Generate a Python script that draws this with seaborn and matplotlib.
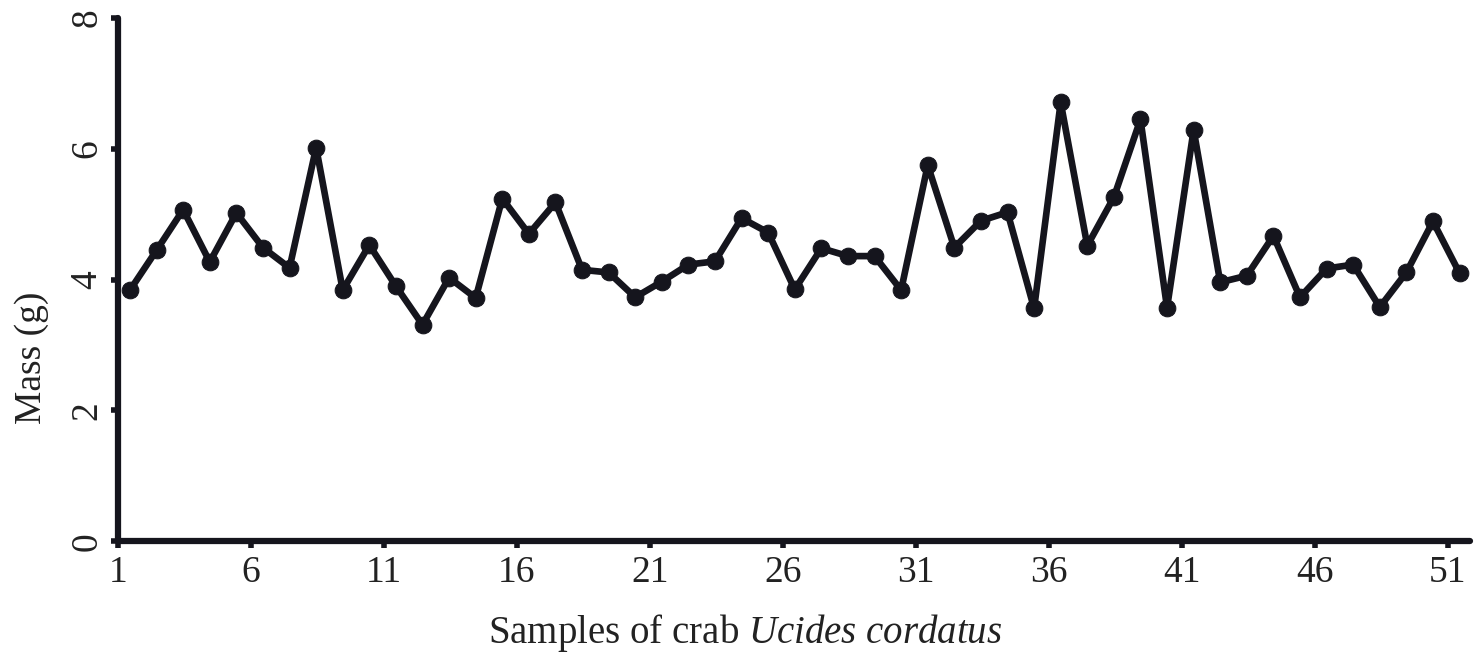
import numpy as np
import pandas as pd
import seaborn as sns
import matplotlib.pyplot as plt

# crab samples 1..51 and their mass (g)
samples = list(range(1, 52))
mass = [3.84, 4.45, 5.07, 4.27, 5.02, 4.49, 4.18, 6.02, 3.84, 4.53,
        3.90, 3.31, 4.03, 3.72, 5.24, 4.70, 5.18, 4.15, 4.11, 3.73,
        3.97, 4.23, 4.28, 4.94, 4.72, 3.85, 4.48, 4.36, 4.36, 3.84,
        5.75, 4.49, 4.90, 5.03, 3.56, 6.71, 4.52, 5.26, 6.45, 3.57,
        6.29, 3.96, 4.06, 4.67, 3.73, 4.17, 4.23, 3.58, 4.11, 4.89,
        4.10]
x_ticks = [1, 6, 11, 16, 21, 26, 31, 36, 41, 46, 51]
y_ticks = [0, 2, 4, 6, 8]

df = pd.DataFrame({'sample': samples, 'mass': mass})
# excel-style category axis: points sit in the middle of each category
df['pos'] = df['sample'] + 0.45

sns.set_style('ticks')
plt.rcParams['font.family'] = ['Liberation Serif', 'DejaVu Serif']
plt.rcParams['mathtext.fontset'] = 'custom'
plt.rcParams['mathtext.rm'] = 'Liberation Serif'
plt.rcParams['mathtext.it'] = 'Liberation Serif:italic'

fig = plt.figure(figsize=(14.81, 6.69), dpi=100)
ax = fig.add_axes([0.0797, 0.191, 0.913, 0.782])

ink = '#15151d'
sns.lineplot(data=df, x='pos', y='mass', ax=ax, color=ink, linewidth=4.8,
             marker='o', markersize=12, markeredgecolor=ink, markerfacecolor=ink)

ax.set_xlim(1, 51.85)
ax.set_ylim(0, 8)
ax.set_xticks(x_ticks)
ax.set_xticklabels([str(t) for t in x_ticks])
ax.set_yticks(y_ticks)
ax.set_yticklabels([str(t) for t in y_ticks], rotation=90, va='center')

for side in ['top', 'right']:
    ax.spines[side].set_visible(False)
for side in ['left', 'bottom']:
    ax.spines[side].set_linewidth(4.5)
    ax.spines[side].set_color(ink)
    ax.spines[side].set_capstyle('round')

ax.tick_params(axis='both', length=5, width=4, color=ink, labelsize=27,
               labelcolor='#222222')
ax.tick_params(axis='x', pad=5)
ax.tick_params(axis='y', pad=5)

ax.set_xlabel('Samples of crab $\\mathit{Ucides\\ cordatus}$', fontsize=28,
              color='#222222')
ax.xaxis.set_label_coords(0.464, -0.135)
ax.set_ylabel('Mass (g)', fontsize=27, color='#222222')
ax.yaxis.set_label_coords(-0.051, 0.35)

fig.savefig('out.png', dpi=100)
